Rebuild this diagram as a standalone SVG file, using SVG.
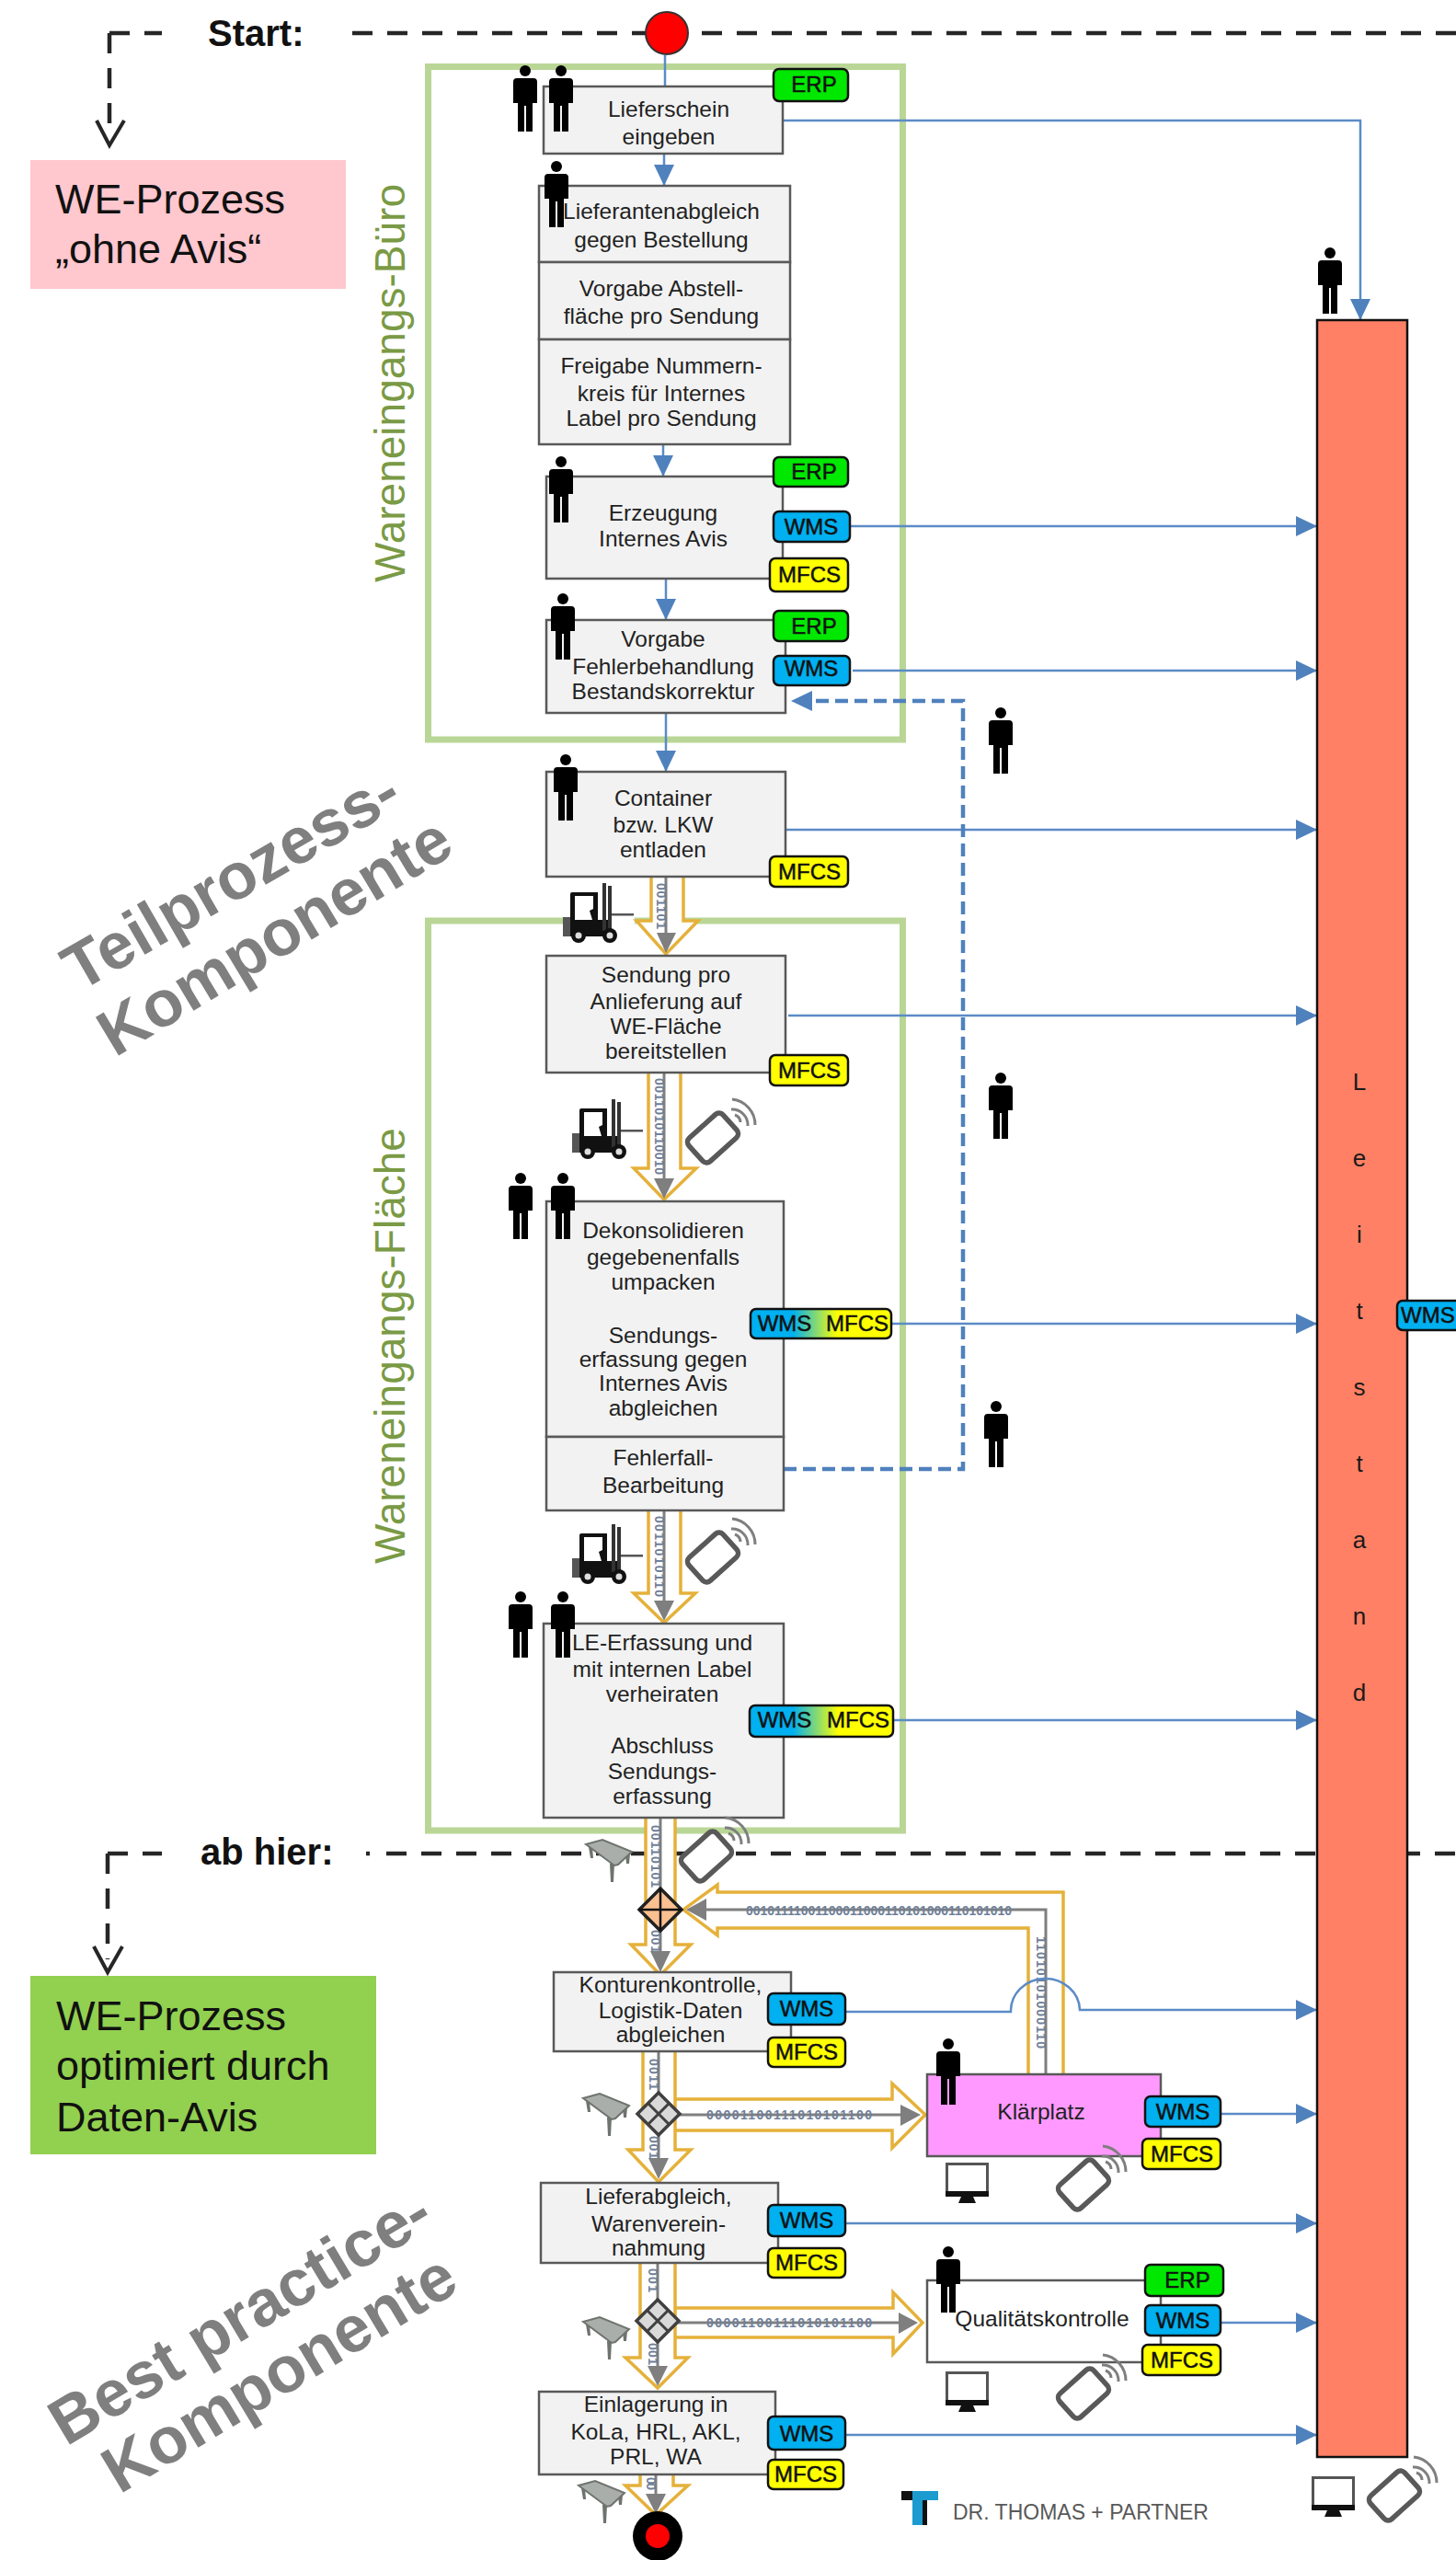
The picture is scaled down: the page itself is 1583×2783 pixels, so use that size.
<svg xmlns="http://www.w3.org/2000/svg" width="1583" height="2783" viewBox="0 0 1583 2783">
<style>
text{font-family:"Liberation Sans",Arial,sans-serif;fill:#1a1a1a}
.t{font-size:24.5px;text-anchor:middle;fill:#222}
.b{fill:#f2f2f2;stroke:#595959;stroke-width:2.5}
.bd{stroke:#111;stroke-width:2.5}
.bt{font-size:24px;text-anchor:middle;fill:#111;stroke:#111;stroke-width:.5}
.erp{fill:#00e800}.wms{fill:#00b0f0}.mfcs{fill:#ffff00}
.frame{fill:none;stroke:#b9d696;stroke-width:7}
.side{font-size:46px;fill:#7a9a45}
.big{font-size:71px;font-weight:700;fill:#7f7f7f}
.head{font-size:40px;font-weight:700;fill:#111}
.note{font-size:45px;fill:#111}
.dash{fill:none;stroke:#262626;stroke-width:4.5;stroke-dasharray:22 16}
.open{fill:none;stroke:#262626;stroke-width:4}
.cn{fill:none;stroke:#5b8bc6;stroke-width:2.5;marker-end:url(#ah)}
.hol{fill:#fff;stroke:#e5b13a;stroke-width:3.5}
.hl{fill:none;stroke:#e5b13a;stroke-width:3.5}
.g{fill:none;stroke:#7f7f7f;stroke-width:3}
.gh{fill:#7f7f7f}
.bin{font-size:14px;fill:#6f7f99;font-weight:700}
.tick{fill:none;stroke:#ff7c80;stroke-width:6;filter:url(#sh)}
</style>
<defs>
<marker id="ah" markerUnits="userSpaceOnUse" markerWidth="24" markerHeight="24" refX="23" refY="11" orient="auto"><path d="M0 0L23 11L0 22Z" fill="#4f81bd"/></marker>
<marker id="ahd" markerUnits="userSpaceOnUse" markerWidth="24" markerHeight="24" refX="23" refY="11" orient="auto"><path d="M0 0L23 11L0 22Z" fill="#4f81bd"/></marker>
<linearGradient id="wm" x1="0" x2="1" y1="0" y2="0"><stop offset=".3" stop-color="#00b0f0"/><stop offset=".62" stop-color="#ffff00"/></linearGradient>
<filter id="sh" x="-10%" y="-200%" width="120%" height="600%"><feDropShadow dx="0" dy="4" stdDeviation="3" flood-color="#000" flood-opacity=".3"/></filter>
<g id="person"><circle cx="13" cy="6" r="6" fill="#000"/><path d="M4 14H22Q26 14 26 18V41H21V72H14V44H12V72H5V41H0V18Q0 14 4 14Z" fill="#000"/></g>
<g id="fork">
<rect x="0" y="37" width="9" height="21" fill="#555"/>
<path d="M8 12Q8 10 10 10H38V40H52V58H8Z" fill="#111"/>
<path d="M13 14H33V28L29 30L32 40H13Z" fill="#fff"/>
<path d="M43 0H47V52H43ZM49 3H53V52H49Z" fill="#333"/>
<path d="M53 33H77V35.500H53Z" fill="#555"/>
<circle cx="17" cy="57" r="8" fill="#111"/><circle cx="17" cy="57" r="3.500" fill="#ddd"/>
<circle cx="51" cy="57" r="8" fill="#111"/><circle cx="51" cy="57" r="3.500" fill="#ddd"/>
</g>
<g id="table">
<path d="M3 8L7 8L8 20L5 20ZM26 26H31L30 46H27ZM43 15H48L47 26H44Z" fill="#6e736e"/>
<path d="M0 5L18 0L50 13L35 27L31 28Z" fill="#a9aeaa" stroke="#6e736e" stroke-width="2"/>
</g>
<g id="phone">
<rect x="-25" y="-17" width="50" height="34" rx="6" transform="rotate(-42)" fill="#fff" stroke="#595959" stroke-width="5.500"/>
<path d="M20 -31A17 17 0 0 1 38 -13M21 -42A28 28 0 0 1 46 -14M24 -25A9 9 0 0 1 30 -17" fill="none" stroke="#7f7f7f" stroke-width="3"/>
</g>
<g id="mon">
<rect x="1.500" y="1.500" width="44" height="31" fill="#fff" stroke="#555" stroke-width="3"/>
<rect x="0" y="31" width="47" height="6" fill="#111"/>
<path d="M17 37H30L33 44H14Z" fill="#111"/>
</g>
</defs>
<rect width="1583" height="2783" fill="#fff"/>
<g id="frames">
<rect class="frame" x="465.500" y="72.500" width="516" height="731.500"/>
<rect class="frame" x="465.500" y="1001" width="516" height="989"/>
</g>
<g id="lines">
<path class="dash" d="M119 36H176"/><path class="dash" d="M119 36V150"/>
<path class="open" d="M105 131L119 158L135 131"/>
<path class="dash" d="M383 36H1583"/>
<path class="dash" d="M117 2015H176"/><path class="dash" d="M117 2015V2130"/>
<path class="open" d="M102 2116L117 2144L133 2116"/>
<path class="dash" d="M398 2015H402"/><path class="dash" d="M420 2015H1583"/>
</g>
<g id="connectors">
<path class="cn" style="marker-end:none" d="M723 60V94"/>
<path class="cn" d="M722 167V202"/>
<path class="cn" d="M721 483V518"/>
<path class="cn" d="M724 629V674"/>
<path class="cn" d="M724 775V839"/>
<path class="cn" d="M851 131H1479V348"/>
<path class="cn" d="M924 572H1432"/>
<path class="cn" d="M927 729H1432"/>
<path class="cn" d="M854 902H1432"/>
<path class="cn" d="M857 1104H1432"/>
<path class="cn" d="M969 1439H1432"/>
<path class="cn" d="M971 1870H1432"/>
<path class="cn" style="stroke:#4f81bd;stroke-width:4.500;stroke-dasharray:14 7;marker-end:url(#ahd)" d="M852 1597H1047V762H860"/>
<g id="gold">
<rect x="612" y="996" width="78" height="12" fill="#fff"/>
<path class="hol" d="M708 953V1001H692L724 1037L759 1001H743V953"/>
<path class="g" d="M724 953V1015"/><path class="gh" d="M714 1014H735L724 1036Z"/>
<path class="hol" d="M705 1166V1270H689L722 1304L757 1270H740V1166"/>
<path class="g" d="M722 1166V1282"/><path class="gh" d="M711 1281H733L722 1303Z"/>
<path class="hol" d="M705 1642V1732H689L722 1764L756 1732H740V1642"/>
<path class="g" d="M722 1642V1742"/><path class="gh" d="M711 1740H733L722 1762Z"/>
<path class="hol" d="M702 1976V2114H686L718 2147L751 2114H734V1976"/>
<path class="g" d="M718 1976V2125"/><path class="gh" d="M707 2121H729L718 2144Z"/>
<path class="hol" d="M1156 2255V2057H780V2049L743 2076L780 2104V2096H1118V2255"/>
<path class="g" d="M1137 2255V2076H760"/><path class="gh" d="M768 2064V2088L746 2076Z"/>
<path class="hol" d="M734 2282H970V2265L1006 2299L970 2335V2316H734"/>
<path class="hol" d="M699 2230V2337H683L716 2372L751 2337H734V2230"/>
<path class="g" d="M716 2230V2350"/><path class="gh" d="M705 2346H727L716 2369Z"/>
<path class="g" d="M734 2299H985"/><path class="gh" d="M979 2288L1001 2299L979 2311Z"/>
<path class="hol" d="M734 2509H971V2492L1003 2525L971 2559V2541H734"/>
<path class="hol" d="M696 2460V2563H680L715 2596L748 2563H734V2460"/>
<path class="g" d="M715 2460V2576"/><path class="gh" d="M704 2572H726L715 2594Z"/>
<path class="g" d="M734 2525H982"/><path class="gh" d="M977 2514L998 2525L977 2537Z"/>
<path class="hol" d="M696 2690V2702H680L713 2734L748 2702H732V2690"/>
<path class="g" d="M713 2690V2714"/><path class="gh" d="M702 2711H724L713 2733Z"/>
</g>
<g id="bits">
<text class="bin" x="0" y="0" textLength="50" transform="translate(719 960) rotate(90)" dy="5">001101</text>
<text class="bin" x="0" y="0" textLength="105" transform="translate(717 1172) rotate(90)" dy="5">0011010110010</text>
<text class="bin" x="0" y="0" textLength="88" transform="translate(717 1648) rotate(90)" dy="5">0011010110</text>
<text class="bin" x="0" y="0" textLength="68" transform="translate(713 1984) rotate(90)" dy="5">00110101</text>
<text class="bin" x="0" y="0" textLength="25" transform="translate(713 2098) rotate(90)" dy="5">001</text>
<text class="bin" x="0" y="0" textLength="34" transform="translate(711 2238) rotate(90)" dy="5">0011</text>
<text class="bin" x="0" y="0" textLength="25" transform="translate(711 2322) rotate(90)" dy="5">001</text>
<text class="bin" x="0" y="0" textLength="26" transform="translate(710 2466) rotate(90)" dy="5">001</text>
<text class="bin" x="0" y="0" textLength="24" transform="translate(710 2547) rotate(90)" dy="5">001</text>
<text class="bin" x="0" y="0" textLength="14" transform="translate(708 2693) rotate(90)" dy="5">00</text>
<text class="bin" x="0" y="0" textLength="122" transform="translate(1132 2105) rotate(90)" dy="5">11010101000110</text>
<text class="bin" x="811" y="2082" textLength="289">00101111001100011000110101000110101010</text>
<text class="bin" x="768" y="2304" textLength="180">00001100111010101100</text>
<text class="bin" x="768" y="2530" textLength="180">00001100111010101100</text>
</g>
<path class="cn" d="M919 2187H1099A37.500 35 0 0 1 1174 2185H1432"/>
<path class="cn" d="M1327 2298H1432"/>
<path class="cn" d="M919 2417H1432"/>
<path class="cn" d="M1327 2525H1432"/>
<path class="cn" d="M919 2647H1432"/>
</g>
<g id="notes">
<text class="head" x="226" y="50">Start:</text>
<text class="head" x="218" y="2027">ab hier:</text>
<g id="note-ohne"><rect x="33" y="174" width="343" height="140" fill="#ffc7ce"/>
<text class="note" x="60" y="232">WE-Prozess</text><text class="note" x="60" y="286">„ohne Avis“</text></g>
<g id="note-opt"><rect x="33" y="2148" width="376" height="194" fill="#92d050"/>
<text class="note" x="61" y="2207">WE-Prozess</text><text class="note" x="61" y="2261">optimiert  durch</text><text class="note" x="61" y="2317">Daten-Avis</text></g>
<text class="side" transform="translate(440 633) rotate(-90)">Wareneingangs-Büro</text>
<text class="side" transform="translate(440 1700) rotate(-90)">Wareneingangs-Fläche</text>
<text class="big" transform="translate(86 1079) rotate(-30)">Teilprozess-</text>
<text class="big" transform="translate(125 1150) rotate(-31)">Komponente</text>
<text class="big" transform="translate(72 2660) rotate(-31)">Best practice-</text>
<text class="big" transform="translate(130 2712) rotate(-31)">Komponente</text>
</g>
<g id="start"><circle cx="725" cy="36" r="23" fill="#f00" stroke="#333" stroke-width="2"/></g>
<g id="end"><circle cx="715" cy="2757" r="27" fill="#000"/><circle cx="715" cy="2757" r="13" fill="#f00"/></g>
<g id="n-lieferschein"><rect class="b" x="591" y="94" width="260" height="73"/>
<text class="t" x="727" y="127">Lieferschein</text><text class="t" x="727" y="157">eingeben</text>
<rect class="bd erp" x="841" y="75" width="81" height="35" rx="6"/><text class="bt" x="885" y="100">ERP</text></g>
<g id="n-abgleich"><rect class="b" x="586" y="202" width="273" height="83"/>
<text class="t" x="719" y="238">Lieferantenabgleich</text><text class="t" x="719" y="269">gegen Bestellung</text></g>
<g id="n-vorgabe"><rect class="b" x="586" y="285" width="273" height="84"/>
<text class="t" x="719" y="322">Vorgabe Abstell-</text><text class="t" x="719" y="352">fläche pro Sendung</text></g>
<g id="n-freigabe"><rect class="b" x="586" y="369" width="273" height="114"/>
<text class="t" x="719" y="406">Freigabe Nummern-</text><text class="t" x="719" y="436">kreis für Internes</text><text class="t" x="719" y="463">Label pro Sendung</text></g>
<g id="n-erzeugung"><rect class="b" x="594" y="518" width="257" height="111"/>
<text class="t" x="721" y="566">Erzeugung</text><text class="t" x="721" y="594">Internes Avis</text>
<rect class="bd erp" x="841" y="497" width="81" height="32" rx="6"/><text class="bt" x="885" y="521">ERP</text>
<rect class="bd wms" x="841" y="556" width="83" height="33" rx="6"/><text class="bt" x="882" y="581">WMS</text>
<rect class="bd mfcs" x="837" y="607" width="85" height="36" rx="6"/><text class="bt" x="880" y="633">MFCS</text></g>
<g id="n-fehler"><rect class="b" x="594" y="674" width="260" height="101"/>
<text class="t" x="721" y="703">Vorgabe</text><text class="t" x="721" y="733">Fehlerbehandlung</text><text class="t" x="721" y="760">Bestandskorrektur</text>
<rect class="bd erp" x="841" y="664" width="81" height="33" rx="6"/><text class="bt" x="885" y="689">ERP</text>
<rect class="bd wms" x="841" y="713" width="83" height="32" rx="6"/><text class="bt" x="882" y="735">WMS</text></g>
<g id="n-container"><rect class="b" x="594" y="839" width="260" height="114"/>
<text class="t" x="721" y="876">Container</text><text class="t" x="721" y="905">bzw. LKW</text><text class="t" x="721" y="932">entladen</text>
<rect class="bd mfcs" x="837" y="931" width="85" height="33" rx="6"/><text class="bt" x="880" y="956">MFCS</text></g>
<g id="n-sendung"><rect class="b" x="594" y="1039" width="260" height="127"/>
<text class="t" x="724" y="1068">Sendung pro</text><text class="t" x="724" y="1097">Anlieferung auf</text><text class="t" x="724" y="1124">WE-Fläche</text><text class="t" x="724" y="1151">bereitstellen</text>
<rect class="bd mfcs" x="837" y="1147" width="85" height="33" rx="6"/><text class="bt" x="880" y="1172">MFCS</text></g>
<g id="n-dekons"><rect class="b" x="594" y="1306" width="258" height="256"/>
<text class="t" x="721" y="1346">Dekonsolidieren</text><text class="t" x="721" y="1375">gegebenenfalls</text><text class="t" x="721" y="1402">umpacken</text>
<text class="t" x="721" y="1460">Sendungs-</text><text class="t" x="721" y="1486">erfassung gegen</text><text class="t" x="721" y="1512">Internes Avis</text><text class="t" x="721" y="1539">abgleichen</text>
<rect class="bd" fill="url(#wm)" x="816" y="1423" width="153" height="32" rx="6"/><text class="bt" x="853" y="1447">WMS</text><text class="bt" x="932" y="1447">MFCS</text></g>
<g id="n-fehlerfall"><rect class="b" x="594" y="1562" width="258" height="80"/>
<text class="t" x="721" y="1593">Fehlerfall-</text><text class="t" x="721" y="1623">Bearbeitung</text></g>
<g id="n-le"><rect class="b" x="591" y="1765" width="261" height="211"/>
<text class="t" x="720" y="1794">LE-Erfassung und</text><text class="t" x="720" y="1823">mit internen Label</text><text class="t" x="720" y="1850">verheiraten</text>
<text class="t" x="720" y="1906">Abschluss</text><text class="t" x="720" y="1934">Sendungs-</text><text class="t" x="720" y="1961">erfassung</text>
<rect class="bd" fill="url(#wm)" x="815" y="1854" width="156" height="34" rx="6"/><text class="bt" x="853" y="1878">WMS</text><text class="bt" x="933" y="1878">MFCS</text></g>
<g id="d-1"><path d="M718 2053L741 2076L718 2099L695 2076Z" fill="#fac090" stroke="#222" stroke-width="3.500"/><path d="M718 2053V2099M695 2076H741" stroke="#111" stroke-width="2.500"/></g>
<g id="d-2"><path d="M716 2275L739 2298L716 2321L693 2298Z" fill="#d9d9d9" stroke="#404040" stroke-width="3.500"/><path d="M704.500 2286.500L727.500 2309.500M727.500 2286.500L704.500 2309.500" stroke="#404040" stroke-width="3"/></g>
<g id="d-3"><path d="M715 2500L738 2523L715 2546L692 2523Z" fill="#d9d9d9" stroke="#404040" stroke-width="3.500"/><path d="M703.500 2511.500L726.500 2534.500M726.500 2511.500L703.500 2534.500" stroke="#404040" stroke-width="3"/></g>
<g id="n-kontur"><rect class="b" x="602" y="2144" width="258" height="86"/>
<text class="t" x="729" y="2166">Konturenkontrolle,</text><text class="t" x="729" y="2194">Logistik-Daten</text><text class="t" x="729" y="2220">abgleichen</text>
<rect class="bd wms" x="835" y="2167" width="84" height="34" rx="6"/><text class="bt" x="877" y="2192">WMS</text>
<rect class="bd mfcs" x="835" y="2215" width="84" height="32" rx="6"/><text class="bt" x="877" y="2239">MFCS</text></g>
<g id="n-klaer"><rect x="1008" y="2255" width="254" height="89" fill="#ff99ff" stroke="#595959" stroke-width="2.500"/>
<text class="t" x="1132" y="2304">Klärplatz</text>
<rect class="bd wms" x="1245" y="2279" width="82" height="33" rx="6"/><text class="bt" x="1286" y="2304">WMS</text>
<rect class="bd mfcs" x="1242" y="2325" width="85" height="33" rx="6"/><text class="bt" x="1285" y="2350">MFCS</text></g>
<g id="n-liefer"><rect class="b" x="588" y="2373" width="258" height="87"/>
<text class="t" x="716" y="2396">Lieferabgleich,</text><text class="t" x="716" y="2426">Warenverein-</text><text class="t" x="716" y="2452">nahmung</text>
<rect class="bd wms" x="835" y="2397" width="84" height="34" rx="6"/><text class="bt" x="877" y="2422">WMS</text>
<rect class="bd mfcs" x="835" y="2444" width="84" height="32" rx="6"/><text class="bt" x="877" y="2468">MFCS</text></g>
<g id="n-quali"><rect x="1008" y="2479" width="254" height="89" fill="#fff" stroke="#595959" stroke-width="2.500"/>
<text class="t" x="1133" y="2529">Qualitätskontrolle</text>
<rect class="bd erp" x="1245" y="2462" width="85" height="34" rx="6"/><text class="bt" x="1291" y="2487">ERP</text>
<rect class="bd wms" x="1245" y="2506" width="82" height="33" rx="6"/><text class="bt" x="1286" y="2531">WMS</text>
<rect class="bd mfcs" x="1242" y="2549" width="85" height="33" rx="6"/><text class="bt" x="1285" y="2574">MFCS</text></g>
<g id="n-einlag"><rect class="b" x="586" y="2600" width="257" height="90"/>
<text class="t" x="713" y="2622">Einlagerung in</text><text class="t" x="713" y="2652">KoLa, HRL, AKL,</text><text class="t" x="713" y="2679">PRL, WA</text>
<rect class="bd wms" x="835" y="2627" width="84" height="36" rx="6"/><text class="bt" x="877" y="2654">WMS</text>
<rect class="bd mfcs" x="835" y="2674" width="82" height="32" rx="6"/><text class="bt" x="876" y="2698">MFCS</text></g>
<g id="n-leitstand"><rect x="1432" y="348" width="98" height="2323" fill="#ff8064" stroke="#111" stroke-width="2.500"/>
<g font-size="26" text-anchor="middle" style="font-size:26px;text-anchor:middle">
<text x="1478" y="1185">L</text><text x="1478" y="1268">e</text><text x="1478" y="1351">i</text><text x="1478" y="1434">t</text><text x="1478" y="1517">s</text><text x="1478" y="1600">t</text><text x="1478" y="1683">a</text><text x="1478" y="1766">n</text><text x="1478" y="1849">d</text></g>
<path class="tick" d="M1502 931H1583"/><path class="tick" d="M1502 1700H1583"/><path class="tick" d="M1502 2435H1583"/>
<rect class="bd wms" x="1519" y="1414" width="80" height="32" rx="6"/><text class="bt" x="1523" y="1438" style="text-anchor:start">WMS</text></g>
<g id="icons">
<use href="#person" x="558" y="71"/><use href="#person" x="597" y="71"/><use href="#person" x="592" y="175"/><use href="#person" x="597" y="496"/><use href="#person" x="599" y="645"/><use href="#person" x="602" y="820"/>
<use href="#person" x="553" y="1275"/><use href="#person" x="599" y="1275"/><use href="#person" x="553" y="1730"/><use href="#person" x="599" y="1730"/>
<use href="#person" x="1018" y="2216"/><use href="#person" x="1018" y="2442"/><use href="#person" x="1433" y="269"/>
<use href="#person" x="1075" y="769"/><use href="#person" x="1075" y="1166"/><use href="#person" x="1070" y="1523"/>
<use href="#fork" x="612" y="960"/><use href="#fork" x="622" y="1195"/><use href="#fork" x="622" y="1657"/>
<use href="#table" x="637" y="2000"/><use href="#table" x="634" y="2276"/><use href="#table" x="634" y="2519"/><use href="#table" x="629" y="2697"/>
<use href="#phone" x="775" y="1237"/><use href="#phone" x="775" y="1693"/><use href="#phone" x="768" y="2018"/><use href="#phone" x="1178" y="2375"/><use href="#phone" x="1178" y="2602"/><use href="#phone" x="1516" y="2713"/>
<use href="#mon" x="1028" y="2351"/><use href="#mon" x="1028" y="2578"/><use href="#mon" x="1426" y="2692"/>
</g>
<g id="logo">
<path d="M980 2708H1020V2718H1007V2745H992V2718H980Z" fill="#1b9bd0"/>
<path d="M980 2708H992V2718H980ZM1003 2718H1008V2745H1003Z" fill="#111"/>
<text x="1036" y="2739" style="font-size:23px;fill:#595959">DR. THOMAS + PARTNER</text>
</g>
</svg>
